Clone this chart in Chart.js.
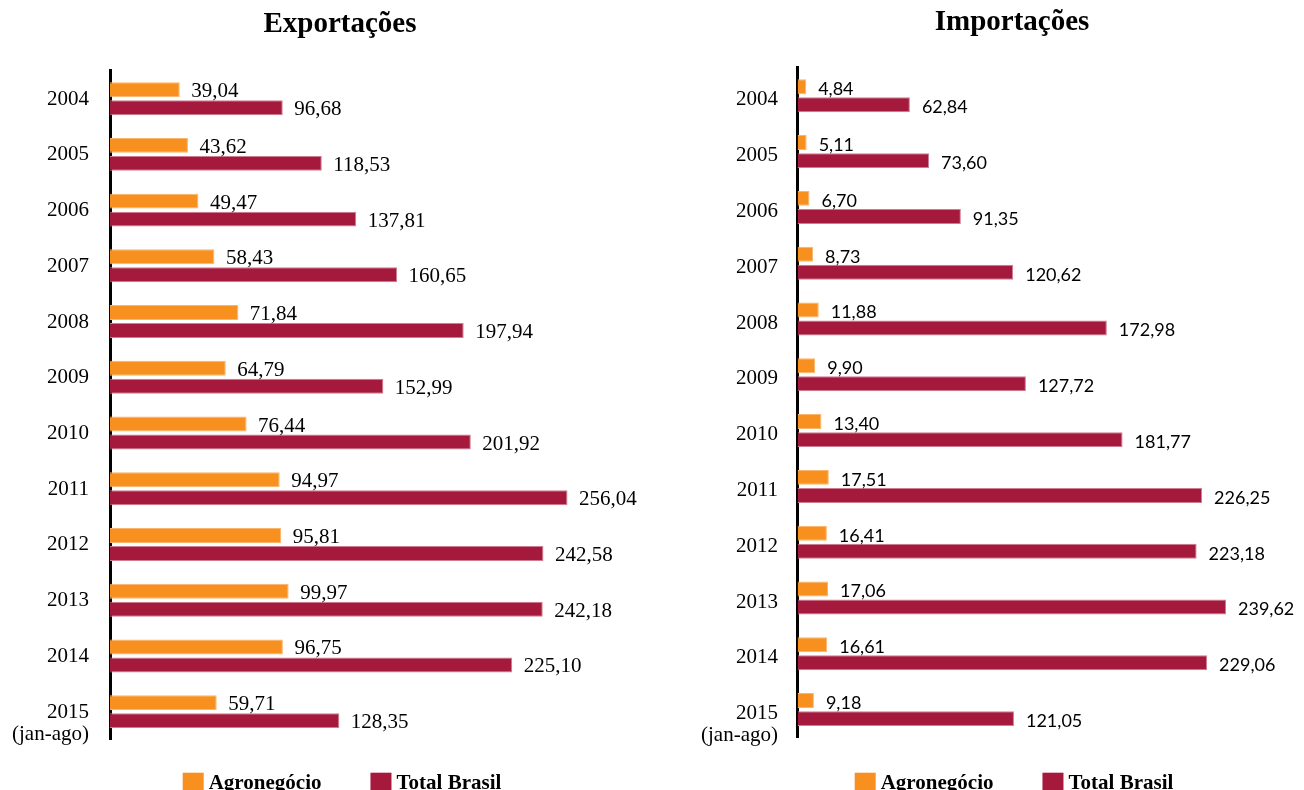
<!DOCTYPE html>
<html lang="pt-BR">
<head>
<meta charset="utf-8">
<title>Exportações e Importações - Agronegócio x Total Brasil</title>
<script src="https://cdn.jsdelivr.net/npm/chart.js@4.4.1/dist/chart.umd.min.js"></script>
<style>
    html, body {
        margin: 0;
        padding: 0;
        background: #ffffff;
        overflow: hidden;
    }
    #painelExp {
        position: absolute;
        left: 0px;
        top: 0px;
    }
    #painelImp {
        position: absolute;
        left: 680px;
        top: 0px;
    }
</style>
</head>
<body>
<div id="painelExp"><canvas id="exportChart" width="680" height="790"></canvas></div>
<div id="painelImp"><canvas id="importChart" width="664" height="790"></canvas></div>

<script>
// dados (US$ bilhões)
const anos = ['2004', '2005', '2006', '2007', '2008', '2009', '2010', '2011', '2012', '2013', '2014', '2015'];
const periodoParcial = '(jan-ago)';
const series = ['Agronegócio', 'Total Brasil'];

const expAgro = [39.04, 43.62, 49.47, 58.43, 71.84, 64.79, 76.44, 94.97, 95.81, 99.97, 96.75, 59.71];
const expTotal = [96.68, 118.53, 137.81, 160.65, 197.94, 152.99, 201.92, 256.04, 242.58, 242.18, 225.10, 128.35];

const impAgro = [4.84, 5.11, 6.70, 8.73, 11.88, 9.90, 13.40, 17.51, 16.41, 17.06, 16.61, 9.18];
const impTotal = [62.84, 73.60, 91.35, 120.62, 172.98, 127.72, 181.77, 226.25, 223.18, 239.62, 229.06, 121.05];

const corAgro = '#F7901E';
const corTotal = '#A51A3C';
const SERIF = "'Liberation Serif', 'Times New Roman', Times, serif";
const SANS = "Lato, 'Liberation Sans', Arial, sans-serif";

// valores no fim de cada barra, com virgula decimal
const valoresPlugin = {
    id: 'valores',
    afterDatasetsDraw(chart, args, opts) {
        const ctx = chart.ctx;
        ctx.save();
        ctx.font = opts.font;
        ctx.fillStyle = '#000';
        ctx.textAlign = 'left';
        ctx.textBaseline = 'middle';
        chart.data.datasets.forEach((ds, i) => {
            const meta = chart.getDatasetMeta(i);
            meta.data.forEach((bar, j) => {
                const txt = ds.data[j].toFixed(2).replace('.', ',');
                ctx.fillText(txt, bar.x + opts.offsetX, bar.y + opts.offsetY);
            });
        });
        ctx.restore();
    }
};

// legenda desenhada em baixo, centrada como o titulo
const legendaPlugin = {
    id: 'legendaBase',
    afterDraw(chart, args, opts) {
        const ctx = chart.ctx;
        ctx.save();
        ctx.font = 'bold 21px ' + SERIF;
        ctx.textAlign = 'left';
        ctx.textBaseline = 'alphabetic';
        const itens = chart.data.datasets.map(ds => ({
            texto: ds.label,
            cor: ds.backgroundColor,
            w: ctx.measureText(ds.label).width
        }));
        let total = 0;
        itens.forEach((it, i) => {
            total += opts.box + opts.gap + it.w;
            if (i > 0) total += opts.spacing;
        });
        const centro = chart.width / 2 + opts.shiftX;
        let x = centro - total / 2;
        itens.forEach(it => {
            ctx.fillStyle = it.cor;
            ctx.fillRect(x, opts.top, opts.box, opts.box);
            ctx.fillStyle = '#000';
            ctx.fillText(it.texto, x + opts.box + opts.gap, opts.baseline);
            x += opts.box + opts.gap + it.w + opts.spacing;
        });
        ctx.restore();
    }
};

function montarGrafico(canvasId, titulo, agro, total, cfg) {
    const canvas = document.getElementById(canvasId).getContext('2d');
    return new Chart(canvas, {
        type: 'bar',
        data: {
            labels: anos,
            datasets: [{
                label: series[0],
                data: agro,
                backgroundColor: corAgro,
                borderColor: '#FAB46C',
                borderWidth: 1,
                categoryPercentage: 0.646,
                barPercentage: 0.83
            }, {
                label: series[1],
                data: total,
                backgroundColor: corTotal,
                borderColor: '#CE7D90',
                borderWidth: 1,
                categoryPercentage: 0.646,
                barPercentage: 0.83
            }]
        },
        options: {
            indexAxis: 'y',
            responsive: false,
            animation: false,
            layout: {
                padding: {
                    left: 0,
                    right: 0,
                    top: 0,
                    bottom: cfg.padBottom
                }
            },
            scales: {
                x: {
                    display: false,
                    min: 0,
                    max: cfg.xMax
                },
                y: {
                    grid: {
                        display: false,
                        drawTicks: false
                    },
                    border: {
                        display: true,
                        color: '#000',
                        width: 3
                    },
                    ticks: {
                        color: '#000',
                        autoSkip: false,
                        padding: cfg.tickPad,
                        labelOffset: cfg.labelOffset,
                        font: {
                            family: SERIF,
                            size: 21,
                            lineHeight: 1.05
                        },
                        callback: function(value, index) {
                            const ano = this.getLabelForValue(value);
                            //ultimo ano so vai ate agosto
                            if (index === anos.length - 1) {
                                return ['', ano, periodoParcial];
                            }
                            return ano;
                        }
                    },
                    afterFit: function(scale) {
                        scale.width = cfg.axisWidth;
                    }
                }
            },
            plugins: {
                title: {
                    display: true,
                    text: titulo,
                    color: '#000',
                    font: {
                        family: SERIF,
                        size: 29,
                        weight: 'bold'
                    },
                    padding: {
                        top: cfg.titleTop,
                        bottom: cfg.titleBottom
                    }
                },
                legend: {
                    display: false
                },
                tooltip: {
                    enabled: false
                },
                valores: {
                    font: cfg.valueFont,
                    offsetX: cfg.valueOffsetX,
                    offsetY: cfg.valueOffsetY
                },
                legendaBase: {
                    shiftX: 2,
                    box: 21,
                    gap: 5,
                    spacing: 49,
                    top: 772.7,
                    baseline: 788.5
                }
            }
        },
        plugins: [valoresPlugin, legendaPlugin]
    });
}

const exportChart = montarGrafico('exportChart', 'Exportações', expAgro, expTotal, {
    padBottom: 50.5,
    axisWidth: 110,
    xMax: 319,
    tickPad: 21,
    labelOffset: 0.5,
    titleTop: 7.6,
    titleBottom: 28.4,
    valueFont: '21px ' + SERIF,
    valueOffsetX: 11.5,
    valueOffsetY: 2
});

// o canvas da direita passa um pouco da janela para o titulo ficar centrado
const importChart = montarGrafico('importChart', 'Importações', impAgro, impTotal, {
    padBottom: 52.5,
    axisWidth: 117.5,
    xMax: 305.6,
    tickPad: 19.5,
    labelOffset: 4,
    titleTop: 5.6,
    titleBottom: 27.5,
    valueFont: '18px ' + SANS,
    valueOffsetX: 12,
    valueOffsetY: 2.5
});
</script>
</body>
</html>
